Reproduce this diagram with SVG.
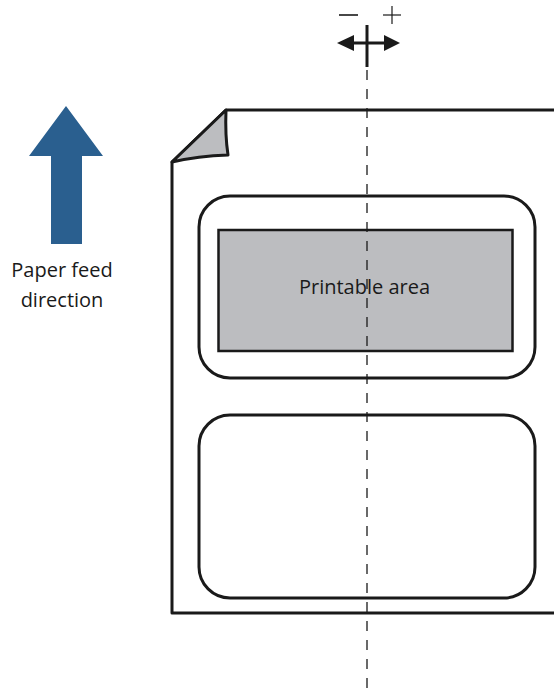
<svg xmlns="http://www.w3.org/2000/svg" width="554" height="691" viewBox="0 0 554 691">
<style>
.ln{fill:none;stroke:#1a1a1a;stroke-width:3;stroke-linejoin:round}
.txt{font-family:"Open Sans","Noto Sans",sans-serif;font-size:20px;fill:#1a1a1a}
</style>
<rect width="554" height="691" fill="#ffffff"/>
<g id="feed-arrow">
<polygon points="66,106 103,156 82,156 82,244 51,244 51,156 29,156" fill="#2a5f8f"/>
<text class="txt" x="62" y="277" text-anchor="middle">Paper feed</text>
<text class="txt" x="62" y="307" text-anchor="middle">direction</text>
</g>
<g id="paper">
<path class="ln" d="M554,110 H226 L172,162 V613 H554"/>
<path d="M226,110 Q225,135 228,155 Q198,156 172,162 Z" fill="#bcbdc0" stroke="#1a1a1a" stroke-width="3" stroke-linejoin="round"/>
</g>
<g id="label1">
<rect class="ln" x="199" y="196" width="336" height="182" rx="31"/>
<rect x="218.5" y="230" width="294" height="121" fill="#bcbdc0" stroke="#1a1a1a" stroke-width="2.5"/>
<text class="txt" x="364.5" y="294" text-anchor="middle">Printable area</text>
</g>
<g id="label2">
<rect class="ln" x="199" y="415" width="336" height="183" rx="31"/>
</g>
<g id="connectors">
<line x1="367" y1="70" x2="367" y2="691" stroke="#1a1a1a" stroke-width="1.3" stroke-dasharray="10 9"/>
<line x1="367" y1="25" x2="367" y2="67" stroke="#1a1a1a" stroke-width="3"/>
<line x1="348" y1="43" x2="390" y2="43" stroke="#1a1a1a" stroke-width="3"/>
<polygon points="337,43 354,35 354,51" fill="#1a1a1a"/>
<polygon points="400,43 384,35 384,51" fill="#1a1a1a"/>
<line x1="339" y1="15" x2="358" y2="15" stroke="#1a1a1a" stroke-width="1.6"/>
<line x1="383" y1="15" x2="401" y2="15" stroke="#1a1a1a" stroke-width="1.2"/>
<line x1="392" y1="6" x2="392" y2="24" stroke="#1a1a1a" stroke-width="1.2"/>
</g>
</svg>
